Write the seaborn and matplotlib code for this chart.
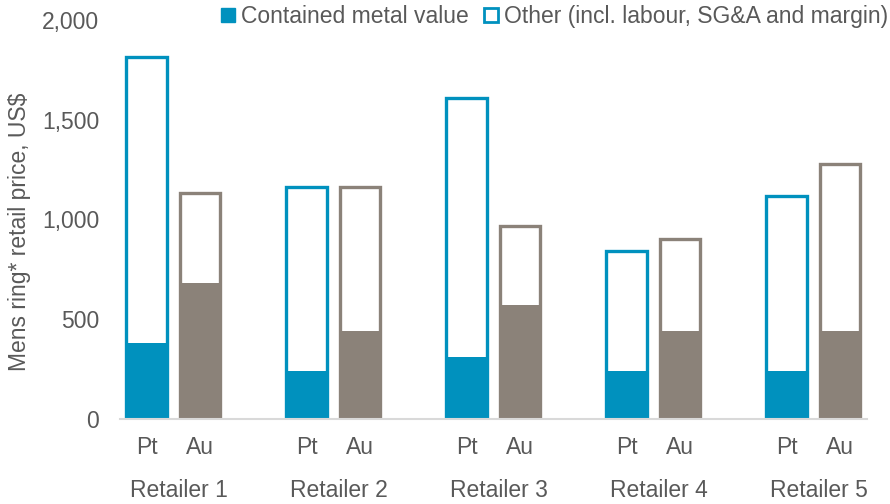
import matplotlib
matplotlib.use("Agg")
import matplotlib.pyplot as plt
import matplotlib.transforms as mtransforms
from matplotlib.patches import Patch
import numpy as np
import pandas as pd
import seaborn as sns

# ── data ──────────────────────────────────────────────────────────────────────
retailers = ["Retailer 1", "Retailer 2", "Retailer 3", "Retailer 4", "Retailer 5"]
metals = ["Pt", "Au"]
pt_total = [1815, 1165, 1610, 840, 1120]
pt_metal = [380, 240, 310, 240, 240]
au_total = [1135, 1165, 965, 900, 1280]
au_metal = [680, 440, 570, 440, 440]

BLUE = "#0091BE"
GREY = "#8B8279"
TEXT = "#595959"
FS = 16.5

sns.set_theme(style="white")
plt.rcParams["font.family"] = ["Liberation Sans", "DejaVu Sans"]

rows = []
for i, r in enumerate(retailers):
    rows.append({"retailer": r, "metal": "Pt", "pos": i * 3, "total": pt_total[i], "value": pt_metal[i]})
    rows.append({"retailer": r, "metal": "Au", "pos": i * 3 + 1, "total": au_total[i], "value": au_metal[i]})
df = pd.DataFrame(rows)
palette = {"Pt": BLUE, "Au": GREY}

fig = plt.figure(figsize=(8.9, 5.04), dpi=100)
ax = fig.add_axes([0.1348, 0.168, 0.839, 0.793])

# outline = whole retail price, then solid fill = contained metal value
sns.barplot(data=df, x="pos", y="total", hue="metal", palette=palette,
            native_scale=True, dodge=False, width=0.76, fill=False,
            linewidth=2.4, legend=False, ax=ax)
sns.barplot(data=df, x="pos", y="value", hue="metal", palette=palette,
            native_scale=True, dodge=False, width=0.79, linewidth=0,
            saturation=1, legend=False, ax=ax)

ax.set_xlim(-0.5, 13.5)
ax.set_ylim(0, 2000)
ax.set_yticks(np.arange(0, 2001, 500))
ax.set_yticklabels([f"{v:,}" for v in range(0, 2001, 500)], fontsize=FS, color=TEXT)
ax.set_xticks(df["pos"])
ax.set_xticklabels(df["metal"], fontsize=FS, color=TEXT)
ax.tick_params(axis="both", length=0)
ax.tick_params(axis="x", pad=12)
ax.tick_params(axis="y", pad=15)
ax.set_xlabel("")
ax.set_ylabel("")
for s in ["top", "right", "left"]:
    ax.spines[s].set_visible(False)
ax.spines["bottom"].set_color("#D9D9D9")
ax.spines["bottom"].set_linewidth(1.5)

trans = mtransforms.blended_transform_factory(ax.transData, ax.transAxes)
for i, r in enumerate(retailers):
    ax.text(i * 3 + 0.6, -0.178, r, transform=trans, ha="center", va="center",
            fontsize=FS, color=TEXT)

fig.text(0.022, 0.54, "Mens ring* retail price, US$", rotation=90,
         ha="center", va="center", fontsize=FS, color=TEXT)

handles = [Patch(facecolor=BLUE, edgecolor=BLUE),
           Patch(facecolor="white", edgecolor=BLUE, linewidth=2)]
fig.legend(handles, ["Contained metal value", "Other (incl. labour, SG&A and margin)"],
           loc="upper right", bbox_to_anchor=(1.012, 1.015), ncol=2, frameon=False,
           fontsize=FS, labelcolor=TEXT, handlelength=0.6, handleheight=0.6,
           handletextpad=0.25, columnspacing=0.7, borderaxespad=0.15)

fig.savefig("out.png", dpi=100)
